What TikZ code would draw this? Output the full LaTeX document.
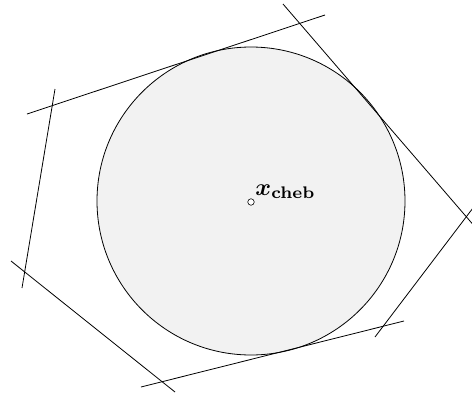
\documentclass[tikz,border=0pt]{standalone}
\usepackage{bm}
\begin{document}
\begin{tikzpicture}[x=1pt,y=-1pt,
  edge/.style={draw=black,line width=0.8pt},
  ball/.style={draw=black,line width=0.8pt,fill={rgb,255:red,242;green,242;blue,242}}]
\useasboundingbox (0,0) rectangle (472,397);
\begin{scope}
\clip (0,0) rectangle (472,397);
\coordinate (c) at (251,201);
\draw[ball] (c) circle[radius=154];
\coordinate (a1) at (27,114);  \coordinate (a2) at (325,15);
\coordinate (b1) at (283,4);   \coordinate (b2) at (476,228);
\coordinate (d1) at (476,204); \coordinate (d2) at (375,337);
\coordinate (e1) at (141,387); \coordinate (e2) at (404,321);
\coordinate (f1) at (11,261);  \coordinate (f2) at (175,392);
\coordinate (g1) at (55,89);   \coordinate (g2) at (22,288);
\draw[edge] (a1) -- (a2);
\draw[edge] (b1) -- (b2);
\draw[edge] (d1) -- (d2);
\draw[edge] (e1) -- (e2);
\draw[edge] (f1) -- (f2);
\draw[edge] (g1) -- (g2);
\node[draw=black,line width=0.6pt,circle,inner sep=0pt,minimum size=6.5pt,fill=white] (m) at (251,202) {};
\node[anchor=base west,inner sep=0pt,scale=2.4] (lab) at (255,195) {$\bm{x}_{\mathbf{cheb}}$};
\end{scope}
\end{tikzpicture}
\end{document}
